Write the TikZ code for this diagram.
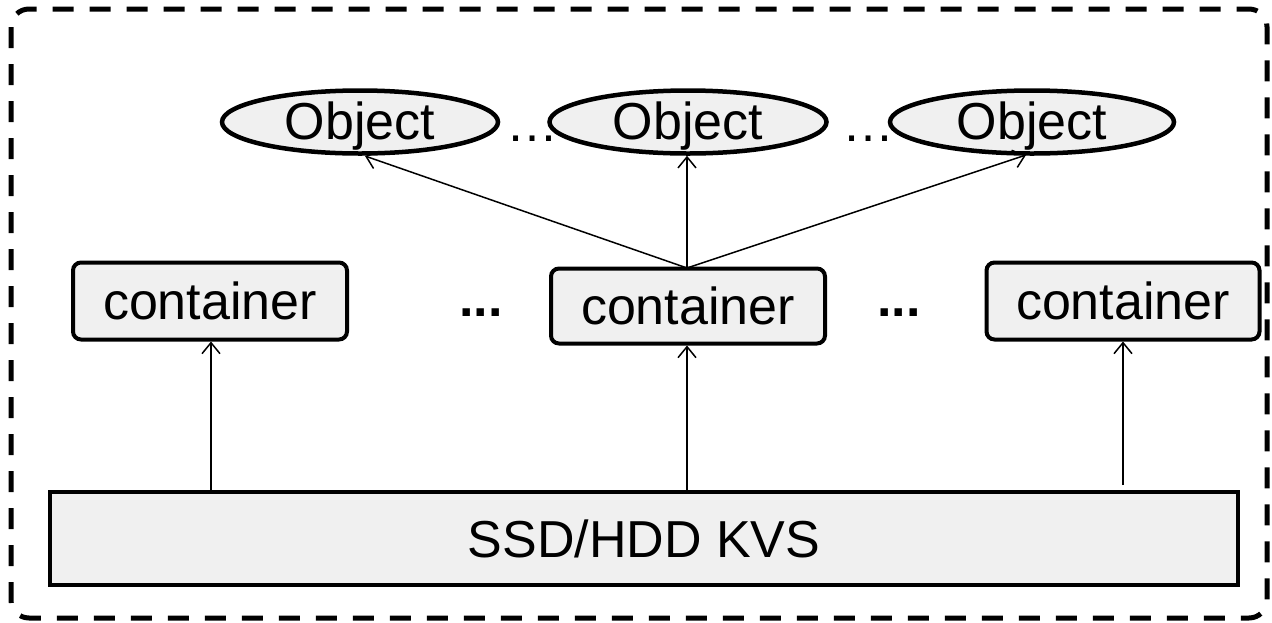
\documentclass[tikz,border=0pt]{standalone}
\usepackage{fontspec}
\setmainfont{Liberation Sans}
\usetikzlibrary{shapes.geometric,arrows.meta}
% text placed on a fixed baseline, without affecting the shape size
\newcommand{\lbl}[2][18pt]{\makebox[0pt]{\smash{\raisebox{-#1}{#2}}}}
\tikzset{
  big/.style={font=\fontsize{52}{60}\selectfont},
  obj/.style={ellipse, draw, line width=4.5pt, fill=black!6, inner sep=0pt, big},
  cont/.style={rectangle, rounded corners=8pt, draw, line width=4pt, fill=black!6, inner sep=0pt, big},
  store/.style={rectangle, draw, line width=4pt, fill=black!6, inner sep=0pt, big},
  link/.style={line width=1.5pt, -{Straight Barb[length=11pt,width=18pt,line width=1.5pt]}},
  frame/.style={line width=5pt, rounded corners=18pt, dash pattern=on 21pt off 16pt},
}
\begin{document}
\begin{tikzpicture}[x=1pt,y=-1pt]
\useasboundingbox (0,0) rectangle (1272,622);
% outer dashed frame
\draw[frame] (11,9) rectangle (1267,618);

% ellipsis marks between the objects (drawn first, partly hidden)
\node[big, anchor=base, inner sep=0pt] (d1) at (532,141) {\dots};
\node[big, anchor=base, inner sep=0pt] (d2) at (868,141) {\dots};

% objects
\node[obj, minimum width=276pt, minimum height=63pt] (o1) at (360,122) {\lbl[17pt]{Object}};
\node[obj, minimum width=277pt, minimum height=63pt] (o2) at (688,122) {\lbl[17pt]{Object}};
\node[obj, minimum width=284pt, minimum height=63pt] (o3) at (1032,122) {\lbl[17pt]{Object}};

% containers
\node[cont, minimum width=274pt, minimum height=77pt] (c1) at (210,301) {\lbl{container}};
\node[cont, minimum width=274pt, minimum height=75pt] (c2) at (688,306) {\lbl{container}};
\node[cont, minimum width=273pt, minimum height=77pt] (c3) at (1123,301) {\lbl{container}};
\node[big, anchor=base, inner sep=0pt] (e1) at (481,316) {\textbf{...}};
\node[big, anchor=base, inner sep=0pt] (e2) at (899,316) {\textbf{...}};

% key-value store
\node[store, minimum width=1188pt, minimum height=93pt] (kvs) at (644,538) {\lbl[19pt]{SSD/HDD KVS}};

% links
\coordinate (top2) at (687,268);
\draw[link] (top2) -- (365,156);
\draw[link] (top2) -- (o2.south -| top2);
\draw[link] (top2) -- (1026,155);

\coordinate (s3) at (1123,485);
\draw[link] (kvs.north -| c1.south) ++(1,0) -- ([xshift=1pt]c1.south);
\draw[link] (kvs.north -| top2) -- (top2 |- c2.south);
\draw[link] (s3) -- (c3.south -| s3);
\end{tikzpicture}
\end{document}
